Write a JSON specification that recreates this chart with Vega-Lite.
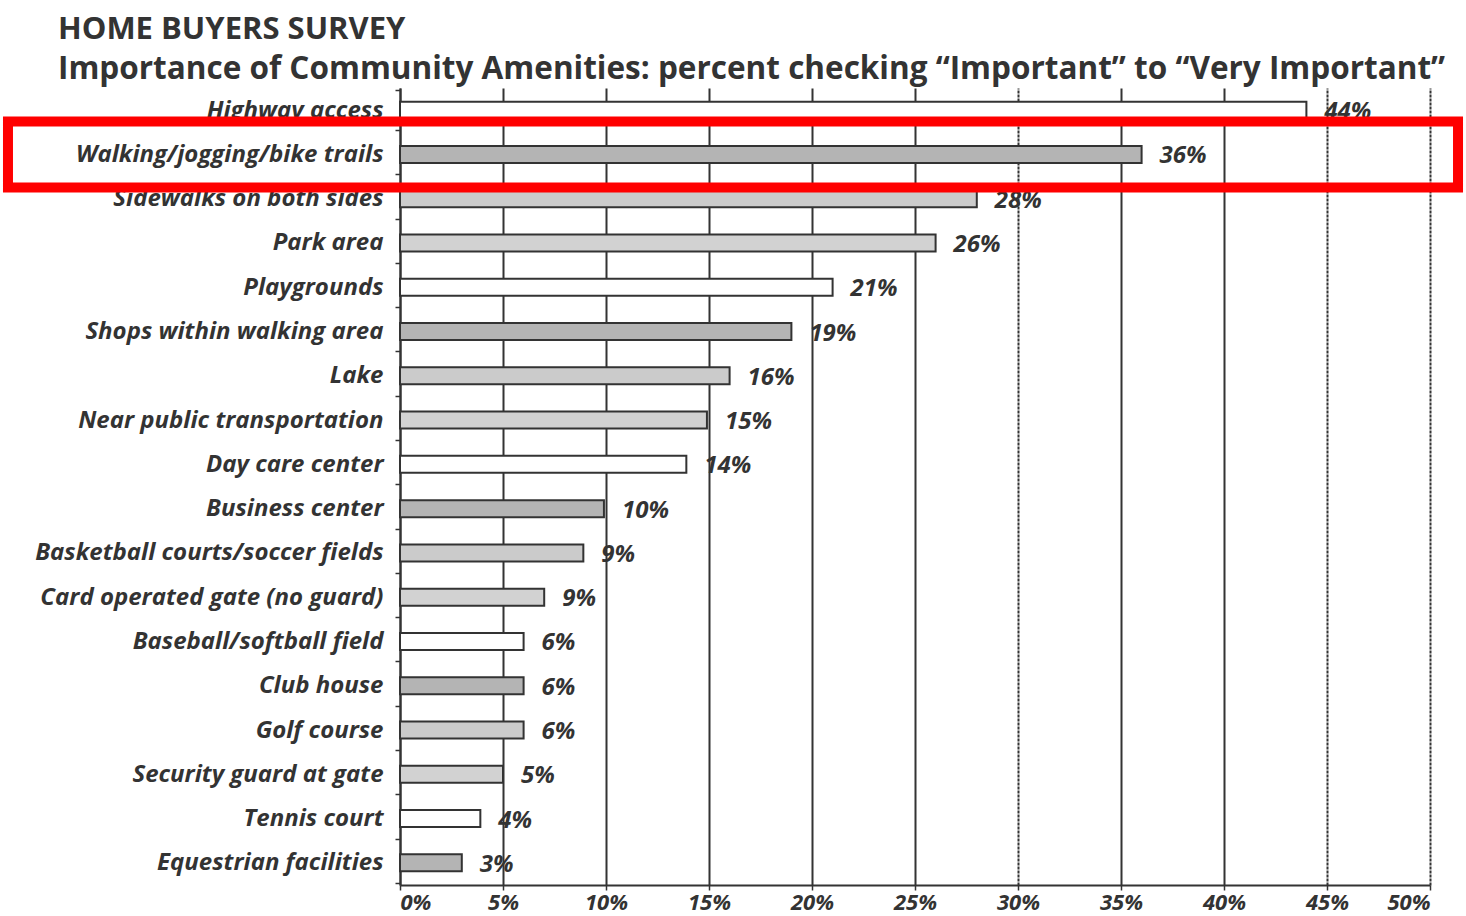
{
  "$schema": "https://vega.github.io/schema/vega-lite/v6.json",
  "autosize": {"type": "none"},
  "padding": {"left": 400, "top": 88, "right": 36, "bottom": 31},
  "width": 1030,
  "height": 797,
  "background": "white",
  "title": {
    "text": "HOME BUYERS SURVEY",
    "subtitle": "Importance of Community Amenities: percent checking “Important” to “Very Important”",
    "anchor": "start",
    "frame": "group",
    "dx": -342,
    "offset": -10,
    "font": "Open Sans",
    "fontSize": 31,
    "fontWeight": "bold",
    "color": "#333333",
    "subtitleFont": "Open Sans",
    "subtitleFontSize": 31.5,
    "subtitleFontWeight": "bold",
    "subtitleColor": "#333333",
    "subtitlePadding": 8
  },
  "config": {
    "view": {"stroke": null},
    "axis": {"labelFont": "Open Sans", "labelFontStyle": "italic", "labelFontWeight": "bold", "labelColor": "#333333", "labelFontSize": 22}
  },
  "datasets": {
    "amenities": [
      {"amenity": "Highway access", "value": 44, "label": "44%", "style": "white"},
      {"amenity": "Walking/jogging/bike trails", "value": 36, "label": "36%", "style": "dark"},
      {"amenity": "Sidewalks on both sides", "value": 28, "label": "28%", "style": "medium"},
      {"amenity": "Park area", "value": 26, "label": "26%", "style": "light"},
      {"amenity": "Playgrounds", "value": 21, "label": "21%", "style": "white"},
      {"amenity": "Shops within walking area", "value": 19, "label": "19%", "style": "dark"},
      {"amenity": "Lake", "value": 16, "label": "16%", "style": "medium"},
      {"amenity": "Near public transportation", "value": 14.9, "label": "15%", "style": "light"},
      {"amenity": "Day care center", "value": 13.9, "label": "14%", "style": "white"},
      {"amenity": "Business center", "value": 9.9, "label": "10%", "style": "dark"},
      {"amenity": "Basketball courts/soccer fields", "value": 8.9, "label": "9%", "style": "medium"},
      {"amenity": "Card operated gate (no guard)", "value": 7, "label": "9%", "style": "light"},
      {"amenity": "Baseball/softball field", "value": 6, "label": "6%", "style": "white"},
      {"amenity": "Club house", "value": 6, "label": "6%", "style": "dark"},
      {"amenity": "Golf course", "value": 6, "label": "6%", "style": "medium"},
      {"amenity": "Security guard at gate", "value": 5, "label": "5%", "style": "light"},
      {"amenity": "Tennis court", "value": 3.9, "label": "4%", "style": "white"},
      {"amenity": "Equestrian facilities", "value": 3, "label": "3%", "style": "dark"}
    ],
    "highlight": [
      {"amenity": "Walking/jogging/bike trails", "start": -19.03, "end": 51.36}
    ]
  },
  "layer": [
    {
      "data": {"name": "amenities"},
      "mark": {"type": "bar", "height": 17, "stroke": "#333333", "strokeWidth": 2},
      "encoding": {
        "y": {
          "field": "amenity", "type": "nominal", "sort": null,
          "axis": {"title": null, "labelLimit": 0, "labelFontSize": 24, "domainColor": "#333333", "domainWidth": 2, "tickBand": "extent", "tickColor": "#333333", "tickSize": 5, "tickWidth": 1.5, "labelPadding": 12}
        },
        "x": {
          "field": "value", "type": "quantitative",
          "scale": {"domain": [0, 50], "nice": false},
          "axis": {
            "title": null, "values": [0, 5, 10, 15, 20, 25, 30, 35, 40, 45, 50],
            "labelExpr": "datum.value + '%'",
            "grid": true, "gridColor": "#333333", "gridWidth": 2,
            "gridDash": {"condition": {"test": "datum.value == 30 || datum.value == 45 || datum.value == 50", "value": [3, 1]}, "value": []},
            "domainColor": "#333333", "domainWidth": 2, "tickColor": "#333333", "tickSize": 5, "tickWidth": 1.5, "labelPadding": 2
          }
        },
        "fill": {
          "field": "style", "type": "nominal",
          "scale": {"domain": ["white", "dark", "medium", "light"], "range": ["#ffffff", "#b4b4b4", "#cbcbcb", "#d2d2d2"]},
          "legend": null
        }
      }
    },
    {
      "data": {"name": "amenities"},
      "mark": {"type": "text", "align": "left", "baseline": "middle", "dx": 18, "dy": 2, "font": "Open Sans", "fontStyle": "italic", "fontWeight": "bold", "fontSize": 24, "color": "#333333"},
      "encoding": {
        "y": {"field": "amenity", "type": "nominal", "sort": null},
        "x": {"field": "value", "type": "quantitative"},
        "text": {"field": "label"}
      }
    },
    {
      "data": {"name": "highlight"},
      "mark": {"type": "bar", "height": 66, "fill": null, "stroke": "#ff0000", "strokeWidth": 10, "clip": false},
      "encoding": {
        "y": {"field": "amenity", "type": "nominal", "sort": null},
        "x": {"field": "start", "type": "quantitative"},
        "x2": {"field": "end"}
      }
    }
  ]
}
